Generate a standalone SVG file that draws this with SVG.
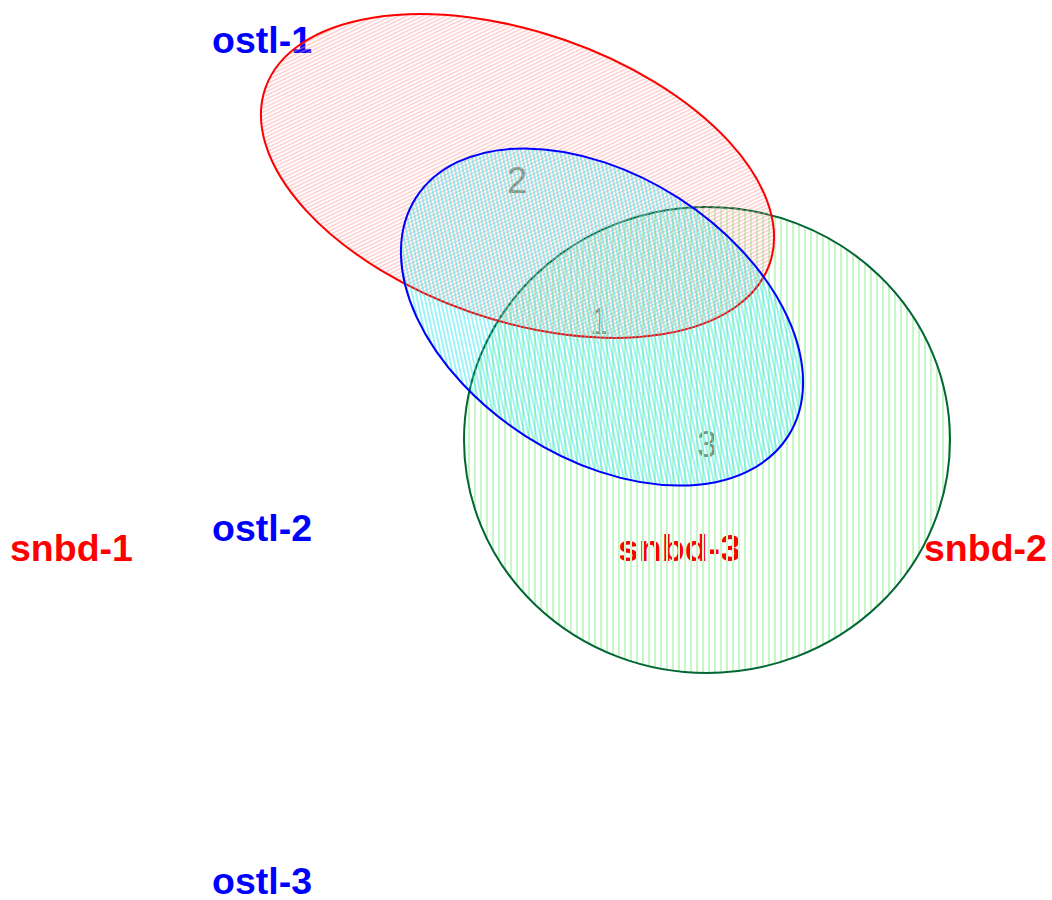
<svg xmlns="http://www.w3.org/2000/svg" width="1052" height="900" viewBox="0 0 1052 900">
<style>
.lab{font-family:"Liberation Sans",Arial,sans-serif;font-weight:bold;font-size:37.5px}
.b{fill:#0000ff}
.r{fill:#ff0000}
.num{font-family:"Liberation Sans",Arial,sans-serif;font-size:36px;fill:#8f8466;text-anchor:middle}
</style>
<defs>
<pattern id="hatchRed" patternUnits="userSpaceOnUse" width="10" height="3.4" patternTransform="rotate(-45)">
<line x1="0" y1="1.7" x2="10" y2="1.7" stroke="#ff9a9a" stroke-width="0.8"/>
</pattern>
<pattern id="hatchCyan" patternUnits="userSpaceOnUse" width="10" height="3.8" patternTransform="rotate(45)">
<line x1="0" y1="1.9" x2="10" y2="1.9" stroke="#22e6f0" stroke-width="0.9"/>
</pattern>
<pattern id="hatchGreen" patternUnits="userSpaceOnUse" width="6" height="10">
<rect x="0" y="0" width="2" height="10" fill="#c6f7c6"/>
</pattern>
</defs>
<g id="labels">
<text id="ostl-1" class="lab b" x="212" y="53">ostl-1</text>
<text id="ostl-2" class="lab b" x="212" y="541">ostl-2</text>
<text id="ostl-3" class="lab b" x="212" y="894">ostl-3</text>
<text id="snbd-1" class="lab r" x="10" y="561">snbd-1</text>
<text id="snbd-2" class="lab r" x="924" y="561">snbd-2</text>
<text id="snbd-3" class="lab r" x="618" y="561">snbd-3</text>
<text class="num" x="517" y="193">2</text>
<text class="num" x="600" y="334">1</text>
<text class="num" x="707" y="457">3</text>
</g>
<g id="sets">
<g id="set-green">
<ellipse cx="707" cy="440" rx="243" ry="233" fill="url(#hatchGreen)" stroke="#006633" stroke-width="2"/>
</g>
<g id="set-red">
<ellipse cx="0" cy="0" rx="267" ry="144" transform="translate(517.5,176) rotate(19.2)" fill="url(#hatchRed)" stroke="#ff0000" stroke-width="2"/>
</g>
<g id="set-blue">
<ellipse cx="0" cy="0" rx="221" ry="141.5" transform="translate(602,317) rotate(32.7)" fill="url(#hatchCyan)" stroke="#0000ff" stroke-width="2"/>
</g>
</g>
<g id="connectors"/>
</svg>
